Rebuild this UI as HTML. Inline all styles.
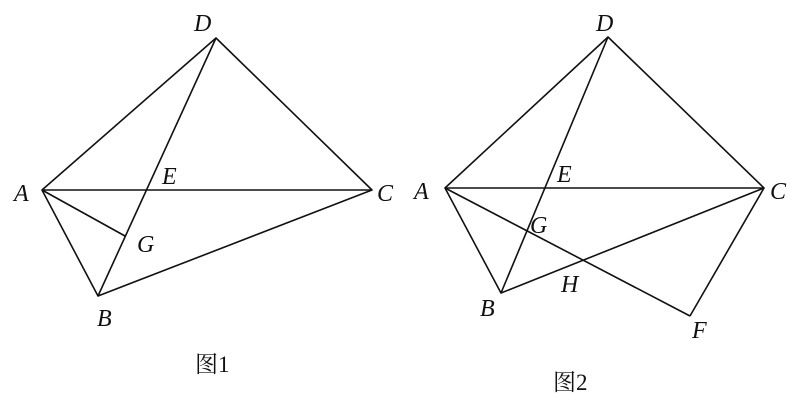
<!DOCTYPE html>
<html><head><meta charset="utf-8"><style>
html,body{margin:0;padding:0;background:#fff;}
svg{display:block}
text{font-family:"Liberation Serif","Noto Serif CJK SC",serif;font-style:italic;font-size:24px;fill:#111}
.c{font-style:normal;font-size:23px}
</style></head><body>
<svg width="794" height="408" viewBox="0 0 794 408" xmlns="http://www.w3.org/2000/svg">
<g stroke="#111" stroke-width="1.6" fill="none" stroke-linejoin="round">
<polygon points="42,190 216,38 372,190 98,296"/>
<line x1="42" y1="190" x2="372" y2="190"/>
<line x1="216" y1="38" x2="98" y2="296"/>
<line x1="42" y1="190" x2="125" y2="236"/>
<polygon points="445,188 608,37 764,188 501,293"/>
<line x1="445" y1="188" x2="764" y2="188"/>
<line x1="608" y1="37" x2="501" y2="293"/>
<line x1="445" y1="188" x2="690" y2="316"/>
<line x1="690" y1="316" x2="764" y2="188"/>
</g>
<text x="194" y="31">D</text>
<text x="14" y="201">A</text>
<text x="162" y="184">E</text>
<text x="377" y="201">C</text>
<text x="137" y="252">G</text>
<text x="97" y="326">B</text>
<text class="c" x="195" y="372">图1</text>
<text x="596" y="31">D</text>
<text x="414" y="199">A</text>
<text x="557" y="182">E</text>
<text x="770" y="199">C</text>
<text x="530" y="233">G</text>
<text x="561" y="292">H</text>
<text x="480" y="316">B</text>
<text x="692" y="338">F</text>
<text class="c" x="553" y="390">图2</text>
</svg>
</body></html>
